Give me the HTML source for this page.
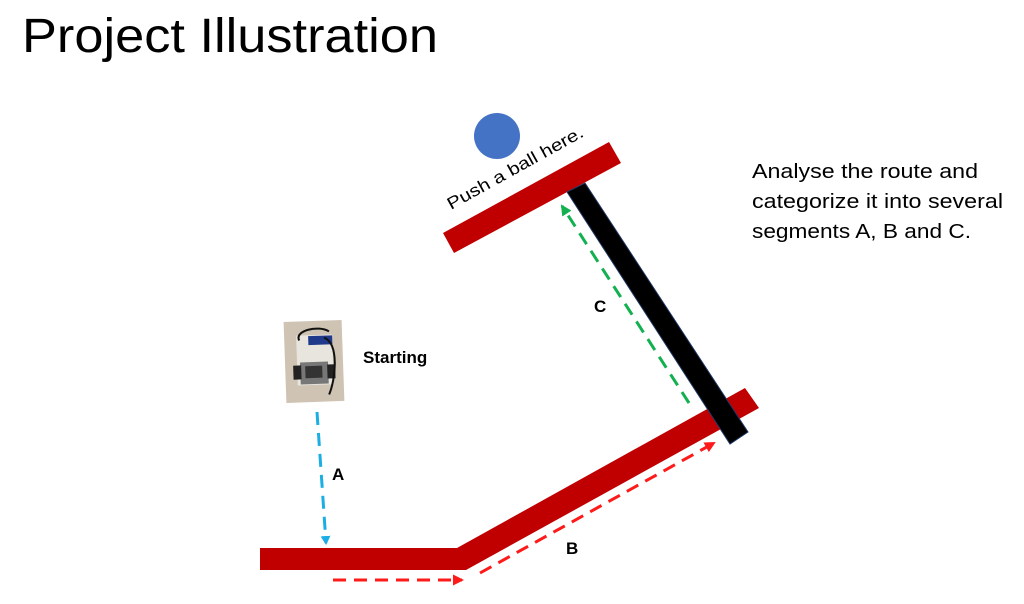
<!DOCTYPE html>
<html><head><meta charset="utf-8"><style>
html,body{margin:0;padding:0;background:#fff;width:1024px;height:604px;overflow:hidden}
svg{display:block}
</style></head><body>
<svg width="1024" height="604" viewBox="0 0 1024 604" xmlns="http://www.w3.org/2000/svg">
<defs>
<marker id="ab" markerWidth="9" markerHeight="10" refX="7" refY="5" orient="auto" markerUnits="userSpaceOnUse"><path d="M0,0 L9,5 L0,10 Z" fill="#1aaee5"/></marker>
<marker id="ar" markerWidth="11" markerHeight="11" refX="9" refY="5.5" orient="auto" markerUnits="userSpaceOnUse"><path d="M0,0 L11,5.5 L0,11 Z" fill="#ff1a1a"/></marker>
<marker id="ag" markerWidth="11" markerHeight="11" refX="9" refY="5.5" orient="auto" markerUnits="userSpaceOnUse"><path d="M0,0 L11,5.5 L0,11 Z" fill="#12b050"/></marker>
</defs>
<text x="22" y="52" font-family="Liberation Sans, sans-serif" font-size="48" textLength="416" lengthAdjust="spacingAndGlyphs" fill="#000">Project Illustration</text>
<g font-family="Liberation Sans, sans-serif" font-size="20" fill="#000">
<text x="752" y="178" textLength="226" lengthAdjust="spacingAndGlyphs">Analyse the route and</text>
<text x="752" y="208" textLength="251" lengthAdjust="spacingAndGlyphs">categorize it into several</text>
<text x="752" y="238" textLength="219" lengthAdjust="spacingAndGlyphs">segments A, B and C.</text>
</g>
<polygon points="260,548 457,548 745,388 759,408 466,570 260,570" fill="#c00000"/>
<polygon points="443,233 609,142 621,163 454,253" fill="#c00000"/>
<polygon points="567,192 585,183 748,432 730,444" fill="#000" stroke="#1f3864" stroke-width="1"/>
<circle cx="497" cy="136" r="23" fill="#4472c4"/>
<text transform="translate(451,210) rotate(-29)" font-family="Liberation Sans, sans-serif" font-size="17" textLength="153" lengthAdjust="spacingAndGlyphs" fill="#000">Push a ball here.</text>
<g transform="rotate(-2 313 362)">
<rect x="285" y="321" width="58" height="81" fill="#cfc3b3"/>
<rect x="297" y="335" width="36" height="50" fill="#e8e4de"/>
<rect x="309" y="336" width="24" height="9" fill="#1f3a8a"/>
<rect x="300" y="362" width="28" height="22" fill="#777"/>
<rect x="305" y="366" width="17" height="12" fill="#333"/>
<rect x="293" y="365" width="8" height="14" fill="#222"/>
<rect x="327" y="365" width="8" height="14" fill="#222"/>
<path d="M300,340 C295,330 320,325 330,332 M325,338 C340,345 335,380 328,395" stroke="#111" stroke-width="2" fill="none"/>
</g>
<text x="363" y="363" font-family="Liberation Sans, sans-serif" font-size="17" font-weight="bold" fill="#000">Starting</text>
<line x1="317" y1="412" x2="326" y2="543" stroke="#1aaee5" stroke-width="3" stroke-dasharray="13,8" marker-end="url(#ab)"/>
<text x="332" y="480" font-family="Liberation Sans, sans-serif" font-size="17" font-weight="bold" fill="#000">A</text>
<line x1="333" y1="580" x2="462" y2="580" stroke="#ff1a1a" stroke-width="3" stroke-dasharray="13,8" marker-end="url(#ar)"/>
<line x1="480" y1="573" x2="714" y2="443" stroke="#ff1a1a" stroke-width="3" stroke-dasharray="13,8" marker-end="url(#ar)"/>
<text x="566" y="554" font-family="Liberation Sans, sans-serif" font-size="17" font-weight="bold" fill="#000">B</text>
<line x1="689" y1="403" x2="562" y2="206" stroke="#12b050" stroke-width="3" stroke-dasharray="13,8" marker-end="url(#ag)"/>
<text x="594" y="312" font-family="Liberation Sans, sans-serif" font-size="17" font-weight="bold" fill="#000">C</text>
</svg>
</body></html>
